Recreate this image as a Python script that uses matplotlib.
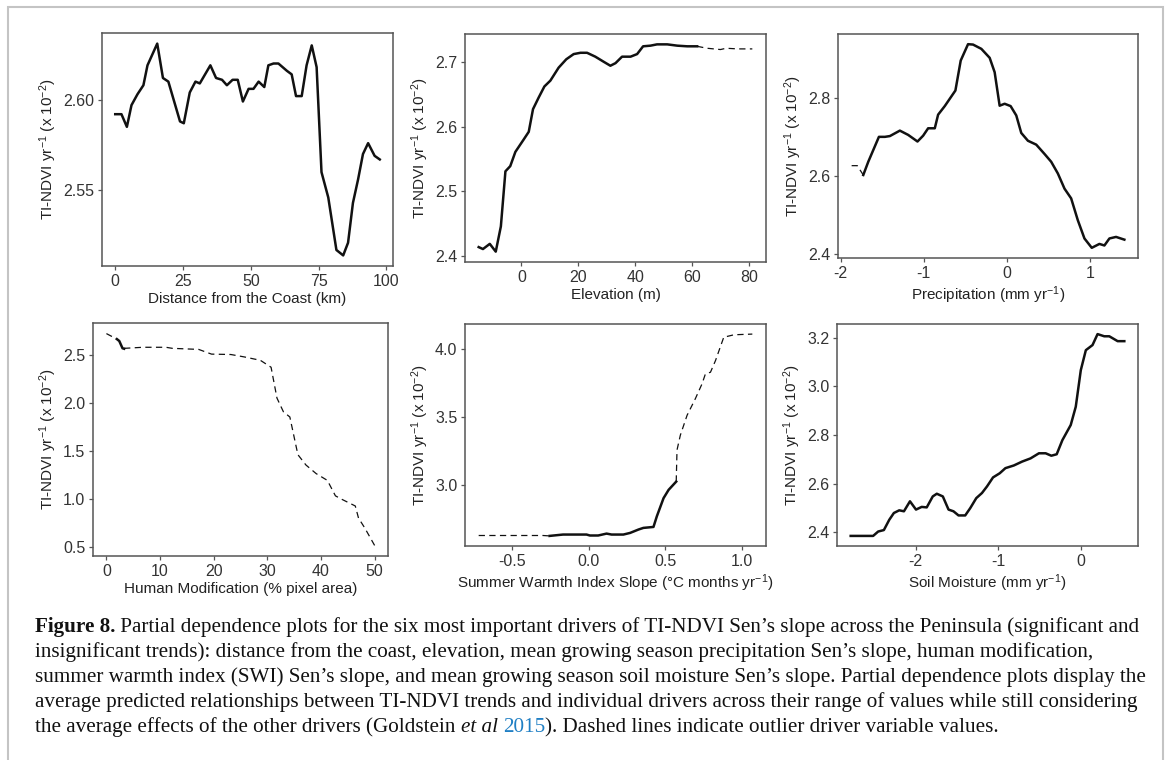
import matplotlib
matplotlib.use("Agg")
import matplotlib.pyplot as plt
from matplotlib.patches import Rectangle

plt.rcParams['font.family'] = ['Liberation Sans', 'DejaVu Sans']
plt.rcParams['mathtext.default'] = 'regular'

# ---- data ----
# distance from the coast (km)
dist_x = [0, 2.3, 4.3, 6.0, 8.2, 10.4, 11.9, 15.5, 17.6, 19.6, 23.9, 25.3, 27.5, 29.6, 31.2,
          35.1, 37.2, 39.4, 41.2, 43.3, 45.2, 47.1, 49.2, 51.0, 52.9, 55.0, 56.5, 58.4, 60.2,
          63.3, 65.1, 66.7, 68.8, 70.6, 72.5, 74.3, 76.1, 78.6, 81.6, 84.1, 85.9, 87.7, 89.6,
          91.4, 93.3, 95.7, 97.6]
dist_y = [2.592, 2.592, 2.585, 2.597, 2.603, 2.608, 2.619, 2.631, 2.612, 2.610, 2.588, 2.587,
          2.604, 2.610, 2.609, 2.619, 2.612, 2.611, 2.608, 2.611, 2.611, 2.599, 2.606, 2.606,
          2.610, 2.607, 2.619, 2.620, 2.620, 2.616, 2.614, 2.602, 2.602, 2.619, 2.630, 2.618,
          2.560, 2.546, 2.517, 2.514, 2.521, 2.543, 2.556, 2.570, 2.576, 2.569, 2.567]

# elevation (m)
elev_x = [-15.0, -13.5, -11.1, -9.0, -7.2, -5.6, -3.9, -2.1, 0.8, 2.6, 4.1, 6.1, 8.1, 10.2,
          13.1, 15.8, 18.4, 20.8, 23.1, 26.0, 29.0, 31.3, 33.1, 35.4, 38.4, 40.7, 42.8, 45.4,
          47.7, 51.3, 54.8, 58.3, 61.8]
elev_y = [2.414, 2.411, 2.419, 2.407, 2.446, 2.531, 2.539, 2.561, 2.580, 2.592, 2.627, 2.645,
          2.662, 2.671, 2.691, 2.704, 2.712, 2.714, 2.714, 2.708, 2.700, 2.694, 2.698, 2.708,
          2.708, 2.712, 2.724, 2.725, 2.727, 2.727, 2.725, 2.724, 2.724]
elev_out_x = [61.8, 65.3, 70.0, 72.0, 76.0, 81.2]
elev_out_y = [2.724, 2.721, 2.719, 2.721, 2.720, 2.720]

# precipitation slope (mm yr-1)
prec_out_x = [-1.868, -1.800, -1.728]
prec_out_y = [2.626, 2.626, 2.602]
prec_x = [-1.728, -1.668, -1.540, -1.468, -1.408, -1.288, -1.188, -1.076, -1.008, -0.948,
          -0.868, -0.828, -0.748, -0.620, -0.556, -0.468, -0.408, -0.308, -0.208, -0.148,
          -0.088, -0.028, 0.044, 0.112, 0.172, 0.252, 0.352, 0.452, 0.532, 0.612, 0.692,
          0.772, 0.852, 0.932, 1.020, 1.112, 1.172, 1.232, 1.312, 1.412]
prec_y = [2.602, 2.636, 2.700, 2.700, 2.702, 2.716, 2.705, 2.688, 2.703, 2.722, 2.722, 2.757,
          2.779, 2.819, 2.896, 2.938, 2.937, 2.926, 2.903, 2.866, 2.780, 2.785, 2.779, 2.755,
          2.710, 2.690, 2.680, 2.656, 2.636, 2.606, 2.567, 2.542, 2.486, 2.439, 2.415, 2.425,
          2.421, 2.439, 2.443, 2.436]

# human modification (% pixel area)
hm_x = [1.95, 2.4, 3.0, 3.3]
hm_y = [2.660, 2.640, 2.565, 2.560]
hm_out_x = [0, 1.95, None, 3.3, 6.8, 11.1, 12.3, 17.2, 19.6, 23.2, 25.7, 28.7, 30.7, 31.8,
            33.0, 34.2, 35.7, 37.2, 39.1, 41.2, 42.7, 43.9, 46.4, 47.0, 48.2, 50.0]
hm_out_y = [2.717, 2.660, None, 2.564, 2.575, 2.575, 2.564, 2.553, 2.504, 2.500, 2.475, 2.440,
            2.368, 2.048, 1.906, 1.852, 1.461, 1.354, 1.265, 1.194, 1.034, 0.998, 0.929, 0.804,
            0.698, 0.520]

# summer warmth index slope
swi_x = [-0.257, -0.169, -0.103, -0.015, 0.007, 0.061, 0.116, 0.149, 0.226, 0.270, 0.325,
         0.357, 0.423, 0.445, 0.489, 0.522, 0.572]
swi_y = [2.624, 2.634, 2.634, 2.634, 2.627, 2.627, 2.641, 2.634, 2.634, 2.646, 2.671, 2.683,
         2.690, 2.768, 2.902, 2.963, 3.024]
swi_out_x = [-0.721, -0.300, -0.257, None, 0.572, 0.577, 0.599, 0.643, 0.697, 0.741, 0.763,
             0.796, 0.829, 0.884, 0.906, 0.950, 1.070]
swi_out_y = [2.627, 2.627, 2.624, None, 3.024, 3.256, 3.366, 3.512, 3.634, 3.744, 3.817,
             3.829, 3.915, 4.090, 4.093, 4.105, 4.110]

# soil moisture slope
soil_x = [-2.787, -2.515, -2.454, -2.385, -2.320, -2.264, -2.199, -2.142, -2.069, -1.996,
          -1.927, -1.866, -1.793, -1.744, -1.671, -1.602, -1.542, -1.481, -1.400, -1.339,
          -1.266, -1.197, -1.136, -1.063, -0.982, -0.913, -0.811, -0.710, -0.609, -0.507,
          -0.426, -0.357, -0.292, -0.223, -0.122, -0.061, 0.0, 0.061, 0.142, 0.203, 0.284,
          0.345, 0.446, 0.527]
soil_y = [2.386, 2.386, 2.404, 2.410, 2.452, 2.480, 2.491, 2.487, 2.528, 2.494, 2.505, 2.503,
          2.548, 2.559, 2.548, 2.494, 2.487, 2.470, 2.470, 2.500, 2.541, 2.562, 2.589, 2.626,
          2.643, 2.664, 2.675, 2.691, 2.704, 2.725, 2.725, 2.715, 2.721, 2.779, 2.841, 2.916,
          3.066, 3.148, 3.169, 3.214, 3.205, 3.205, 3.185, 3.185]

ylab = 'TI-NDVI yr$^{-1}$ (x 10$^{-2}$)'
xlabels = ['Distance from the Coast (km)', 'Elevation (m)', 'Precipitation (mm yr$^{-1}$)',
           'Human Modification (% pixel area)', 'Summer Warmth Index Slope (°C months yr$^{-1}$)',
           'Soil Moisture (mm yr$^{-1}$)']
xticks = [[0, 25, 50, 75, 100], [0, 20, 40, 60, 80], [-2, -1, 0, 1],
          [0, 10, 20, 30, 40, 50], [-0.5, 0.0, 0.5, 1.0], [-2, -1, 0]]
yticks = [[2.55, 2.60], [2.4, 2.5, 2.6, 2.7], [2.4, 2.6, 2.8],
          [0.5, 1.0, 1.5, 2.0, 2.5], [3.0, 3.5, 4.0], [2.4, 2.6, 2.8, 3.0, 3.2]]
xfmt = ['%g', '%g', '%g', '%g', '%.1f', '%g']
yfmt = ['%.2f', '%.1f', '%.1f', '%.1f', '%.1f', '%.1f']

caption = [
    [('Figure 8.', 'b'), (' Partial dependence plots for the six most important drivers of TI-NDVI Sen’s slope across the Peninsula (significant and', 'n')],
    [('insignificant trends): distance from the coast, elevation, mean growing season precipitation Sen’s slope, human modification,', 'n')],
    [('summer warmth index (SWI) Sen’s slope, and mean growing season soil moisture Sen’s slope. Partial dependence plots display the', 'n')],
    [('average predicted relationships between TI-NDVI trends and individual drivers across their range of values while still considering', 'n')],
    [('the average effects of the other drivers (Goldstein ', 'n'), ('et al', 'i'), (' ', 'n'), ('2015', 'c'),
     ('). Dashed lines indicate outlier driver variable values.', 'n')],
]

W, H = 1170, 760
fig = plt.figure(figsize=(W / 100, H / 100), dpi=100)

# outer frame of the figure box
fig.patches.append(Rectangle((8 / W, -0.01), 1155 / W, 1.01 - 6.5 / H, transform=fig.transFigure,
                             fill=False, edgecolor='#c4c4c4', linewidth=1.5))


def box(x0, y0, x1, y1):
    return [x0 / W, 1 - y1 / H, (x1 - x0) / W, (y1 - y0) / H]


boxes = [box(102, 33, 393, 266), box(465, 34, 766, 262), box(838, 34, 1138, 258),
         box(93, 323, 388, 556), box(465, 324, 766, 546), box(837, 324, 1138, 546)]

solid = [(dist_x, dist_y), (elev_x, elev_y), (prec_x, prec_y), (hm_x, hm_y),
         (swi_x, swi_y), (soil_x, soil_y)]
dashed = [None, (elev_out_x, elev_out_y), (prec_out_x, prec_out_y), (hm_out_x, hm_out_y),
          (swi_out_x, swi_out_y), None]

for i in range(6):
    ax = fig.add_axes(boxes[i])
    sx, sy = solid[i]
    ax.plot(sx, sy, color='#111111', linewidth=1.8, solid_joinstyle='round')
    if dashed[i] is not None:
        dx = [float('nan') if v is None else v for v in dashed[i][0]]
        dy = [float('nan') if v is None else v for v in dashed[i][1]]
        ax.plot(dx, dy, color='#111111', linewidth=0.9, dashes=(5, 3.5))
    ax.margins(0.05)
    ax.set_xticks(xticks[i])
    ax.set_yticks(yticks[i])
    ax.set_xticklabels([xfmt[i] % v for v in xticks[i]])
    ax.set_yticklabels([yfmt[i] % v for v in yticks[i]])
    for s in ax.spines.values():
        s.set_color('#555555')
        s.set_linewidth(1.1)
    ax.tick_params(colors='#555555', labelcolor='#333333', labelsize=11.5, length=3, width=0.9, pad=2.5)
    ax.set_xlabel(xlabels[i], fontsize=11, color='#222222', labelpad=2.5)
    ax.set_ylabel(ylab, fontsize=11, color='#222222', labelpad=3)

# caption with mixed styles, placed on baselines
renderer = fig.canvas.get_renderer()
cap_size = 15.2
y = 1 - 632 / H
for line in caption:
    x = 35 / W
    for txt, st in line:
        kw = dict(fontsize=cap_size, family='Liberation Serif', color='#111111', va='baseline')
        if st == 'b':
            kw['weight'] = 'bold'
        if st == 'i':
            kw['style'] = 'italic'
        if st == 'c':
            kw['color'] = '#1f7fc4'
        t = fig.text(x, y, txt, **kw)
        bb = t.get_window_extent(renderer)
        x += bb.width / W
    y -= 25 / H

fig.savefig('out.png', dpi=100)
